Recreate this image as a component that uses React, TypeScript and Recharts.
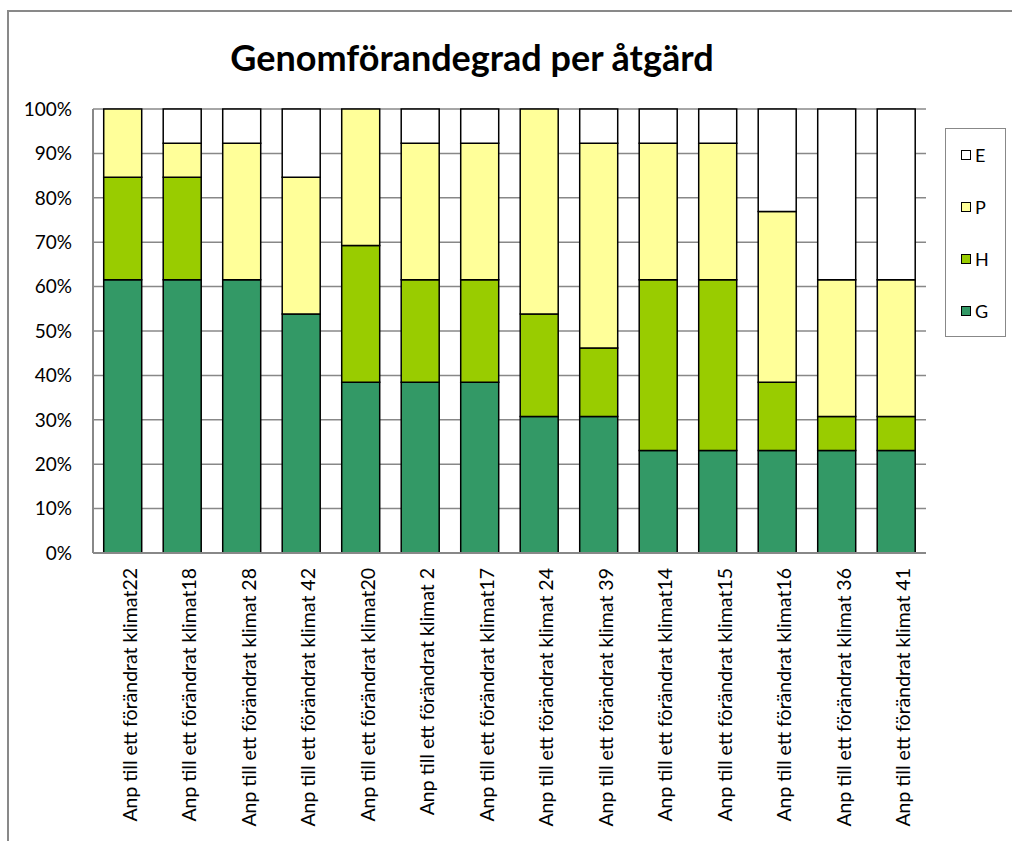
import { BarChart, Bar, XAxis, YAxis, CartesianGrid, Legend } from "recharts"

// antal åtgärder per status (av 13)
const categories = [
  "Anp till ett förändrat klimat22",
  "Anp till ett förändrat klimat18",
  "Anp till ett förändrat klimat 28",
  "Anp till ett förändrat klimat 42",
  "Anp till ett förändrat klimat20",
  "Anp till ett förändrat klimat 2",
  "Anp till ett förändrat klimat17",
  "Anp till ett förändrat klimat 24",
  "Anp till ett förändrat klimat 39",
  "Anp till ett förändrat klimat14",
  "Anp till ett förändrat klimat15",
  "Anp till ett förändrat klimat16",
  "Anp till ett förändrat klimat 36",
  "Anp till ett förändrat klimat 41",
]
const G = [8, 8, 8, 7, 5, 5, 5, 4, 4, 3, 3, 3, 3, 3]
const H = [3, 3, 0, 0, 4, 3, 3, 3, 2, 5, 5, 2, 1, 1]
const P = [2, 1, 4, 4, 4, 4, 4, 6, 6, 4, 4, 5, 4, 4]
const E = [0, 1, 1, 2, 0, 1, 1, 0, 1, 1, 1, 3, 5, 5]
const yTicks = [0, 0.1, 0.2, 0.3, 0.4, 0.5, 0.6, 0.7, 0.8, 0.9, 1]
const legendOrder = ["E", "P", "H", "G"]

const series = [
  { key: "G", fill: "#339966" },
  { key: "H", fill: "#99cc00" },
  { key: "P", fill: "#ffff99" },
  { key: "E", fill: "#ffffff" },
]

const data = categories.map((name, i) => ({ name, G: G[i], H: H[i], P: P[i], E: E[i] }))

const font = "Lato, 'Noto Sans', sans-serif"

function LegendBox({ payload }: any) {
  const items = [...(payload || [])].sort(
    (a: any, b: any) => legendOrder.indexOf(a.value) - legendOrder.indexOf(b.value)
  )
  return (
    <div
      style={{
        width: 59,
        height: 207,
        border: "1px solid #888",
        background: "#fff",
        boxSizing: "content-box",
        fontFamily: font,
        fontSize: 18,
        position: "relative",
      }}
    >
      {items.map((it: any, i: number) => (
        <div
          key={it.value}
          style={{ position: "absolute", left: 15, top: 16 + i * 52, display: "flex", alignItems: "center", height: 20 }}
        >
          <span
            style={{
              width: 8,
              height: 8,
              border: "1.5px solid #000",
              background: it.color,
              display: "inline-block",
              marginRight: 4,
            }}
          />
          <span>{it.value}</span>
        </div>
      ))}
    </div>
  )
}

export default function App() {
  return (
    <div style={{ position: "fixed", left: 0, top: 0, width: 1012, height: 841, overflow: "hidden", background: "#fff" }}>
      <div
        style={{
          position: "absolute",
          left: 7,
          top: 10,
          width: 1100,
          height: 900,
          borderLeft: "2px solid #898989",
          borderTop: "2px solid #898989",
        }}
      />
      <div
        style={{
          position: "absolute",
          left: 0,
          width: 944,
          top: 35,
          textAlign: "center",
          fontFamily: font,
          fontWeight: 700,
          fontSize: 36,
          color: "#000",
        }}
      >
        Genomförandegrad per åtgärd
      </div>
      <div style={{ position: "absolute", left: 0, top: 0 }}>
        <BarChart
          width={1012}
          height={841}
          data={data}
          stackOffset="expand"
          barCategoryGap="18%"
          margin={{ top: 109, right: 86, bottom: 8, left: 0 }}
        >
          <CartesianGrid vertical={false} stroke="#888" strokeWidth={1.5} />
          <XAxis
            dataKey="name"
            interval={0}
            height={280}
            angle={-90}
            textAnchor="end"
            tickLine={false}
            tickSize={0}
            tickMargin={15}
            axisLine={{ stroke: "#888", strokeWidth: 2 }}
            tick={{ fill: "#000", fontSize: 19.5, fontFamily: font }}
          />
          <YAxis
            domain={[0, 1]}
            ticks={yTicks}
            width={93}
            tickFormatter={(v: number) => `${Math.round(v * 100)}%`}
            tickLine={false}
            tickSize={0}
            tickMargin={21}
            axisLine={{ stroke: "#888", strokeWidth: 2 }}
            tick={{ fill: "#000", fontSize: 19, fontFamily: font }}
          />
          <YAxis
            yAxisId="right"
            orientation="right"
            width={0}
            tick={false}
            tickLine={false}
            axisLine={{ stroke: "#888", strokeWidth: 2 }}
          />
          {series.map((s) => (
            <Bar
              key={s.key}
              dataKey={s.key}
              stackId="a"
              fill={s.fill}
              stroke="#000"
              strokeWidth={1.5}
              isAnimationActive={false}
            />
          ))}
          <Legend
            layout="vertical"
            align="center"
            verticalAlign="middle"
            content={<LegendBox />}
            wrapperStyle={{ position: "absolute", left: 945, top: 128, width: 61, height: 209 }}
          />
        </BarChart>
      </div>
    </div>
  )
}
